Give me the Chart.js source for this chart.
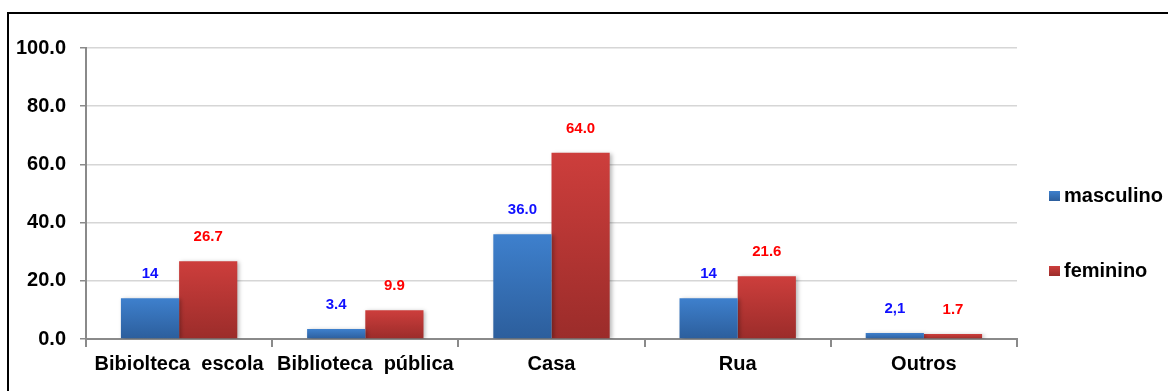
<!DOCTYPE html>
<html>
<head>
<meta charset="utf-8">
<script src="https://cdn.jsdelivr.net/npm/chart.js@4.4.1/dist/chart.umd.min.js"></script>
<style>
  html, body { margin:0; padding:0; background:#fff; overflow:hidden; }
  #frame { position:absolute; left:7px; top:12px; width:2000px; height:2000px; border:2px solid #000; box-sizing:border-box; }
  #c { position:absolute; left:0; top:0; }
</style>
</head>
<body>
<div id="frame"></div>
<canvas id="c" width="1168" height="391"></canvas>
<script>
const categories = ['Bibiolteca  escola', 'Biblioteca  pública', 'Casa', 'Rua', 'Outros'];
const seriesNames = ['masculino', 'feminino'];
const masculino = [14, 3.4, 36.0, 14, 2.1];
const feminino = [26.7, 9.9, 64.0, 21.6, 1.7];
const masculinoLabels = ['14', '3.4', '36.0', '14', '2,1'];
const femininoLabels = ['26.7', '9.9', '64.0', '21.6', '1.7'];
const yTicks = [0, 20, 40, 60, 80, 100];

const FONT = '"Liberation Sans", Arial, sans-serif';

function barGradient(top, bottom) {
  return function (ctx) {
    const chart = ctx.chart;
    const ys = chart.scales && chart.scales.y;
    if (!ys || ctx.raw === undefined || !chart.chartArea) return top;
    const yTop = ys.getPixelForValue(ctx.raw);
    const yBot = ys.getPixelForValue(0);
    if (!isFinite(yTop) || !isFinite(yBot) || yBot - yTop < 1) return top;
    const g = chart.ctx.createLinearGradient(0, yTop, 0, yBot);
    g.addColorStop(0, top);
    g.addColorStop(1, bottom);
    return g;
  };
}

const blueTop = '#3e80cd', blueBot = '#2c5e9c';
const redTop = '#cd3e3c', redBot = '#9b2c2a';

const labelPlugin = {
  id: 'valueLabels',
  afterDatasetsDraw(chart) {
    const ctx = chart.ctx;
    const sets = [
      { labels: masculinoLabels, color: '#1010ff' },
      { labels: femininoLabels, color: '#ff0000' }
    ];
    ctx.save();
    ctx.font = 'bold 15px ' + FONT;
    ctx.textAlign = 'center';
    ctx.textBaseline = 'middle';
    sets.forEach((s, di) => {
      const meta = chart.getDatasetMeta(di);
      meta.data.forEach((bar, i) => {
        ctx.fillStyle = s.color;
        ctx.fillText(s.labels[i], bar.x, bar.y - 24);
      });
    });
    ctx.restore();
  }
};

const shadowPlugin = {
  id: 'barShadow',
  beforeDatasetsDraw(chart) {
    const ctx = chart.ctx;
    ctx.save();
    ctx.shadowColor = 'rgba(0,0,0,0.28)';
    ctx.shadowBlur = 4;
    ctx.shadowOffsetX = 2;
    ctx.shadowOffsetY = 1;
  },
  afterDatasetsDraw(chart) {
    chart.ctx.restore();
  }
};

const legendPlugin = {
  id: 'customLegend',
  afterDraw(chart) {
    const ctx = chart.ctx;
    const items = [
      { name: seriesNames[0], top: blueTop, bot: blueBot, y: 196 },
      { name: seriesNames[1], top: redTop, bot: redBot, y: 271 }
    ];
    ctx.save();
    ctx.font = 'bold 20px ' + FONT;
    ctx.textBaseline = 'middle';
    ctx.textAlign = 'left';
    items.forEach(it => {
      const g = ctx.createLinearGradient(0, it.y - 5, 0, it.y + 5);
      g.addColorStop(0, it.top);
      g.addColorStop(1, it.bot);
      ctx.fillStyle = g;
      ctx.fillRect(1049, it.y - 5, 11, 10);
      ctx.fillStyle = '#000';
      ctx.fillText(it.name, 1064, it.y);
    });
    ctx.restore();
  }
};

new Chart(document.getElementById('c'), {
  type: 'bar',
  data: {
    labels: categories,
    datasets: [
      { label: seriesNames[0], data: masculino, backgroundColor: barGradient(blueTop, blueBot), borderWidth: 0 },
      { label: seriesNames[1], data: feminino, backgroundColor: barGradient(redTop, redBot), borderWidth: 0 }
    ]
  },
  options: {
    responsive: false,
    animation: false,
    devicePixelRatio: 1,
    layout: { padding: { left: 0, right: 151, top: 48, bottom: 0 } },
    datasets: { bar: { categoryPercentage: 0.625, barPercentage: 1.0 } },
    plugins: {
      legend: { display: false },
      tooltip: { enabled: false },
      title: { display: false }
    },
    scales: {
      x: {
        grid: { offset: true, drawOnChartArea: false, drawTicks: true, tickLength: 8, tickColor: '#8a8a8a', lineWidth: 2 },
        border: { display: true, color: '#8a8a8a', width: 2 },
        ticks: {
          color: '#000',
          font: { family: FONT, size: 20, weight: 'bold' },
          padding: 5,
          maxRotation: 0,
          autoSkip: false
        },
        afterFit(scale) { scale.height = 52; }
      },
      y: {
        min: 0,
        max: 100,
        afterBuildTicks(scale) { scale.ticks = yTicks.map(v => ({ value: v })); },
        grid: { color: '#d6d6d6', lineWidth: 1.5, tickLength: 6, tickColor: '#8a8a8a' },
        border: { display: true, color: '#8a8a8a', width: 2 },
        ticks: {
          color: '#000',
          font: { family: FONT, size: 20, weight: 'bold' },
          padding: 14,
          callback: v => Number(v).toFixed(1)
        },
        afterFit(scale) { scale.width = 86; }
      }
    }
  },
  plugins: [shadowPlugin, labelPlugin, legendPlugin]
});
</script>
</body>
</html>
